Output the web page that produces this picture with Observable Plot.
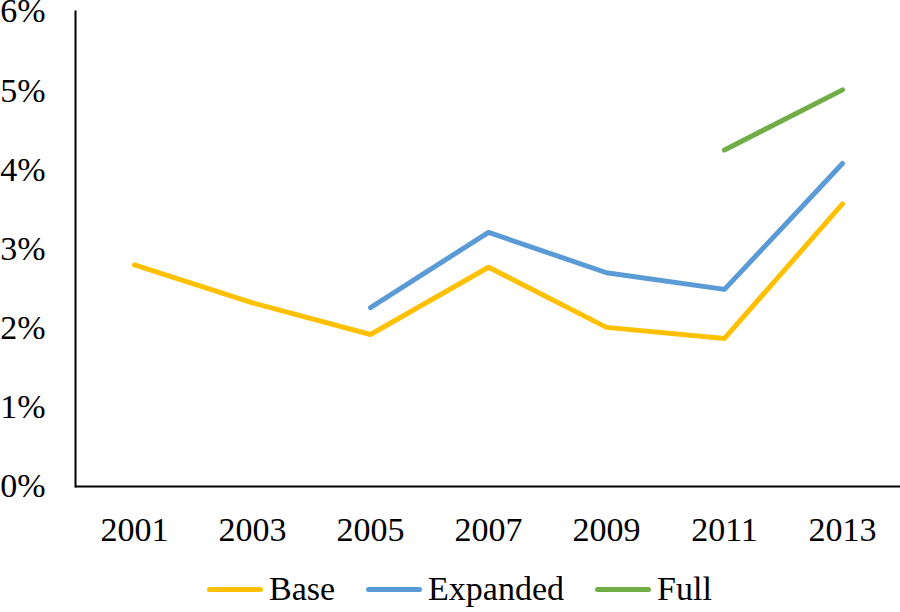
<!DOCTYPE html>
<html>
<head>
<meta charset="utf-8">
<script src="https://cdn.jsdelivr.net/npm/d3@7"></script>
<script src="https://cdn.jsdelivr.net/npm/@observablehq/plot@0.6"></script>
<style>
  body { margin: 0; background: #fff; font-family: "Liberation Serif", "Times New Roman", serif; }
  #chart { width: 900px; height: 612px; position: relative; overflow: hidden; }
  #legend { position: absolute; left: 207px; top: 570px; display: flex; align-items: center; font-size: 34px; color: #000; }
  .item { display: flex; align-items: center; margin-right: 31px; }
  .sw { width: 56px; height: 5px; border-radius: 3px; margin-right: 6px; }
</style>
</head>
<body>
<div id="chart"></div>
<script>
const years = ["2001", "2003", "2005", "2007", "2009", "2011", "2013"];
const seriesNames = ["Base", "Expanded", "Full"];
const seriesColors = ["#FFC000", "#5B9BD5", "#70AD47"];
const base = [2.80, 2.32, 1.92, 2.77, 2.01, 1.87, 3.57];
const expanded = [null, null, 2.26, 3.21, 2.70, 2.49, 4.08];
const full = [null, null, null, null, null, 4.25, 5.01];
const yTicks = [0, 1, 2, 3, 4, 5, 6];

const seriesValues = [base, expanded, full];
const rows = [];
seriesNames.forEach((name, i) => {
  years.forEach((yr, j) => {
    const v = seriesValues[i][j];
    if (v != null) rows.push({ year: yr, value: v, series: name });
  });
});

const plot = Plot.plot({
  width: 900,
  height: 570,
  marginLeft: 75,
  marginRight: -1,
  marginTop: 11,
  marginBottom: 84,
  style: { fontFamily: "'Liberation Serif', 'Times New Roman', serif", fontSize: "34px", color: "#000", background: "#fff", overflow: "visible" },
  x: { type: "point", domain: years, padding: 0.5, tickSize: 0, tickPadding: 30, label: null },
  y: { domain: [0, 6], ticks: yTicks, tickFormat: d => d + "%", tickSize: 0, tickPadding: 30, label: null, line: true },
  color: { domain: seriesNames, range: seriesColors },
  marks: [
    Plot.ruleY([0], { stroke: "#000", strokeWidth: 2 }),
    Plot.line(rows, { x: "year", y: "value", z: "series", stroke: "series", strokeWidth: 5, strokeLinecap: "round", strokeLinejoin: "round" })
  ]
});
plot.querySelectorAll("[aria-label='y-axis line'], [aria-label='frame']").forEach(e => { e.setAttribute("stroke-width", 2); });
document.getElementById("chart").appendChild(plot);

const legend = document.createElement("div");
legend.id = "legend";
seriesNames.forEach((name, i) => {
  const it = document.createElement("div");
  it.className = "item";
  const sw = document.createElement("div");
  sw.className = "sw";
  sw.style.background = seriesColors[i];
  const tx = document.createElement("span");
  tx.textContent = name;
  it.appendChild(sw);
  it.appendChild(tx);
  legend.appendChild(it);
});
document.getElementById("chart").appendChild(legend);
</script>
</body>
</html>
